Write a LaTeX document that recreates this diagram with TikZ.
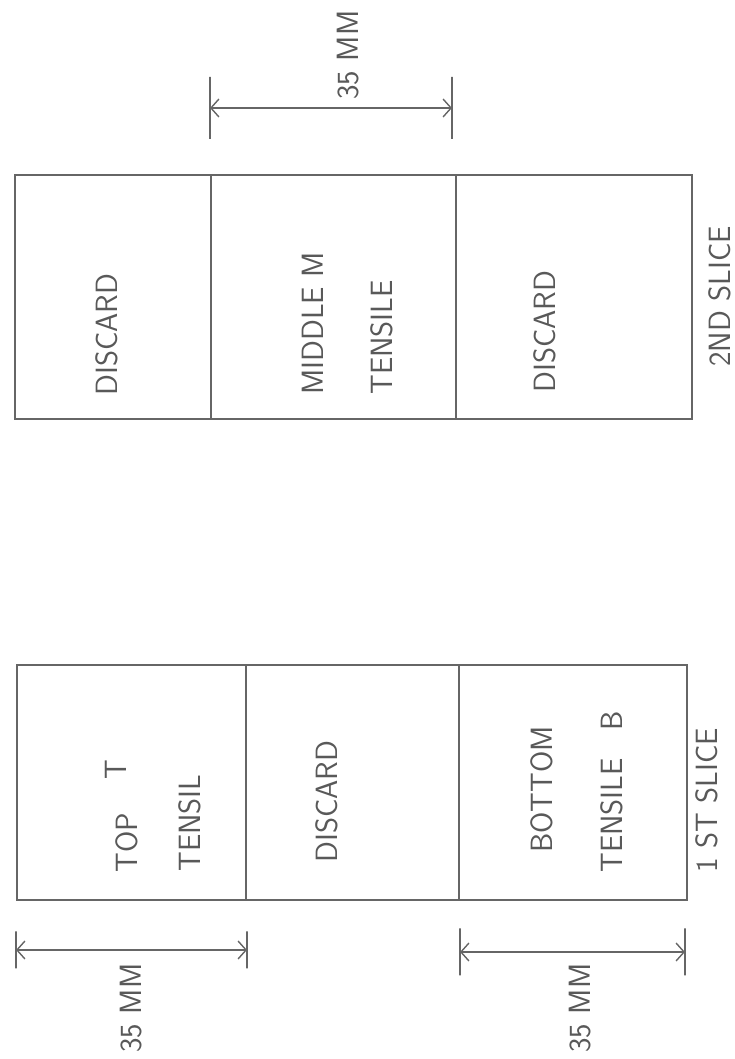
\documentclass[tikz,border=0pt]{standalone}
\usepackage{xcolor}
\usepackage{tikz}
\usetikzlibrary{arrows.meta}

\begin{document}
\begin{tikzpicture}[
    cell/.style={draw=black!60, line width=0.9pt, inner sep=0pt, outer sep=0pt, anchor=south west},
    lbl/.style={rotate=90, anchor=base west, inner sep=0pt, text=black!65,
        font=\sffamily\fontsize{17.5}{20}\selectfont},
    tickmark/.style={draw=black!60, line width=0.8pt, inner sep=0pt, outer sep=0pt, minimum width=0pt},
    dim/.style={draw=black!60, line width=0.8pt,
        {Straight Barb[length=1.6mm,width=3.6mm]}-{Straight Barb[length=1.6mm,width=3.6mm]}}
]
    \useasboundingbox (0, 0) rectangle (14.68, 21.18);

    % 2nd slice
    \node[cell, minimum width=3.92cm, minimum height=4.88cm] at (0.30, 12.80) (s2a) {};
    \node[cell, minimum width=4.90cm, minimum height=4.88cm] at (s2a.south east) (s2b) {};
    \node[cell, minimum width=4.72cm, minimum height=4.88cm] at (s2b.south east) (s2c) {};

    \node[lbl] at (2.34, 13.26) (d2a) {DISCARD};
    \node[lbl] at (6.46, 13.28) (mid) {MIDDLE M};
    \node[lbl] at (7.84, 13.28) (ten2) {TENSILE};
    \node[lbl] at (11.10, 13.32) (d2c) {DISCARD};
    \node[lbl] at (14.60, 13.84) (slice2) {2ND SLICE};

    % 1st slice
    \node[cell, minimum width=4.58cm, minimum height=4.70cm] at (0.34, 3.18) (s1a) {};
    \node[cell, minimum width=4.26cm, minimum height=4.70cm] at (s1a.south east) (s1b) {};
    \node[cell, minimum width=4.56cm, minimum height=4.70cm] at (s1b.south east) (s1c) {};

    \node[lbl] at (2.74, 3.72) (top) {TOP\hspace{1.1em}\raisebox{0.22cm}{T}};
    \node[lbl] at (4.00, 3.74) (ten1) {TENSIL};
    \node[lbl] at (6.74, 3.92) (d1b) {DISCARD};
    \node[lbl] at (11.04, 4.12) (bot) {BOTTOM};
    \node[lbl] at (12.44, 3.72) (ten3) {TENSILE\hspace{0.9em}B};
    \node[lbl] at (14.34, 3.72) (slice1) {1 ST SLICE};

    % dimensions
    \node[tickmark, minimum height=1.24cm] at (4.20, 19.02) (t2l) {};
    \node[tickmark, minimum height=1.24cm] at (9.04, 19.02) (t2r) {};
    \draw[dim] (t2l) -- (t2r);
    \node[lbl] at (7.16, 19.18) (mm2) {35 MM};

    \node[tickmark, minimum height=0.74cm] at (0.32, 2.18) (t1l) {};
    \node[tickmark, minimum height=0.74cm] at (4.94, 2.18) (t1r) {};
    \draw[dim] (t1l) -- (t1r);
    \node[lbl] at (2.84, 0.12) (mm1) {35 MM};

    \node[tickmark, minimum height=0.94cm] at (9.20, 2.14) (t3l) {};
    \node[tickmark, minimum height=0.94cm] at (13.70, 2.14) (t3r) {};
    \draw[dim] (t3l) -- (t3r);
    \node[lbl] at (11.80, 0.12) (mm3) {35 MM};
\end{tikzpicture}
\end{document}
